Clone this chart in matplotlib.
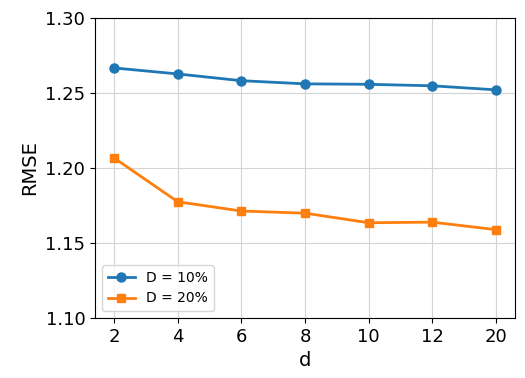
import numpy as np
import matplotlib
matplotlib.use('Agg')
import matplotlib.pyplot as plt

d_labels = ['2', '4', '6', '8', '10', '12', '20']
rmse_10 = [1.2667, 1.2627, 1.2582, 1.2561, 1.2558, 1.2548, 1.2521]
rmse_20 = [1.2067, 1.1775, 1.1713, 1.1699, 1.1635, 1.1639, 1.1589]

x = np.arange(len(d_labels))

fig = plt.figure(figsize=(5.25, 3.78), dpi=100)
ax = fig.add_axes([95 / 525, 1 - 318 / 378, 420 / 525, 300 / 378])
ax.plot(x, rmse_10, marker='o', linewidth=2, markersize=6.5, color='#1f77b4', label='D = 10%')
ax.plot(x, rmse_20, marker='s', linewidth=2, markersize=6, color='#ff7f0e', label='D = 20%')

ax.set_xticks(x)
ax.set_xticklabels(d_labels)
ax.set_ylim(1.10, 1.30)
ax.set_yticks([1.10, 1.15, 1.20, 1.25, 1.30])
ax.tick_params(labelsize=13)
ax.set_xlabel('d', fontsize=14)
ax.set_ylabel('RMSE', fontsize=14)
ax.grid(True, color='#d3d3d3', linewidth=0.8)
ax.legend(loc='lower left', fontsize=10)

plt.savefig('out.png', dpi=100)
